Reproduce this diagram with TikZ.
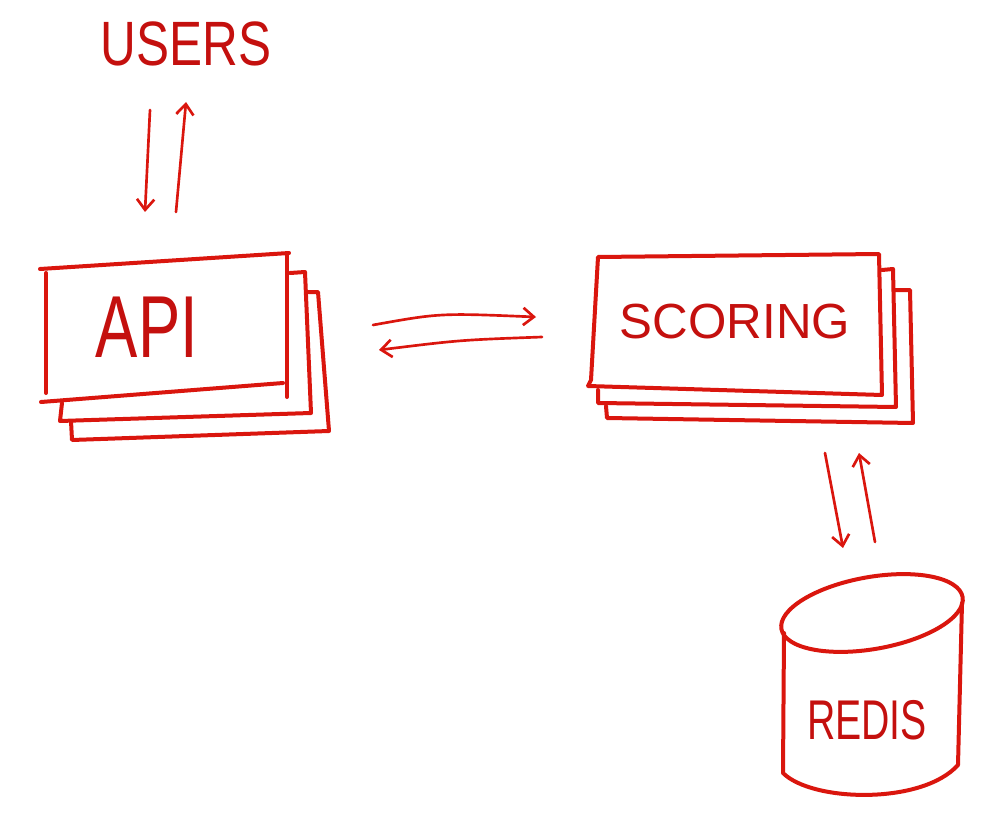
\documentclass[tikz,border=0pt]{standalone}
\usepackage{fontspec}
\setmainfont{Liberation Sans}
\usepackage{graphicx}
\usetikzlibrary{arrows.meta}
\definecolor{ink}{RGB}{218,22,14}
\definecolor{inkdark}{RGB}{196,16,14}
\tikzset{
  boxline/.style={draw=ink, line width=3pt, line join=round, line cap=round},
  conn/.style={draw=ink, line width=2pt, line cap=round,
    -{Straight Barb[length=8pt,width=13pt,line width=2pt]}},
  label/.style={text=inkdark, inner sep=0pt, anchor=center},
}
\begin{document}
\begin{tikzpicture}[x=0.75pt,y=-0.75pt]
\useasboundingbox (0,0) rectangle (1000,813);

% ---------- USERS ----------
\node[label, font=\fontsize{47pt}{47pt}\selectfont] (users) at (186,44) {\scalebox{0.79}[1]{USERS}};
\coordinate (u1s) at (150,110);
\coordinate (u1e) at (145,212);
\coordinate (u2s) at (176,212);
\coordinate (u2e) at (186,102);
\draw[conn] (u1s) -- (u1e);
\draw[conn] (u2s) -- (u2e);

% ---------- API stack ----------
\draw[boxline] (308,292) -- (318,292) -- (329,431) -- (72,440) -- (71,421);
\draw[boxline] (290,273) -- (305,272) -- (311,413) -- (60,421) -- (62,403);
\fill[white] (40,269) -- (289,253) -- (287,397) -- (283,383) -- (41,402) -- cycle;
\draw[boxline] (40,269) -- (289,253);
\draw[boxline] (46,273) -- (46,393);
\draw[boxline] (287,255) -- (287,397);
\draw[boxline] (41,402) -- (283,383);
\node[label, font=\fontsize{66pt}{66pt}\selectfont] (api) at (147,327) {\scalebox{0.72}[1]{API}};

% ---------- API <-> SCORING ----------
\coordinate (a1s) at (373,325);
\coordinate (a1e) at (536,317);
\coordinate (a2s) at (542,337);
\coordinate (a2e) at (379,350);
\draw[conn] (a1s) .. controls (440,313) .. (a1e);
\draw[conn] (a2s) .. controls (460,340) .. (a2e);

% ---------- SCORING stack ----------
\draw[boxline] (895,290) -- (910,290) -- (913,423) -- (607,418) -- (606,406);
\draw[boxline] (882,270) -- (893,269) -- (896,407) -- (598,403) -- (598,390);
\draw[boxline, fill=white] (598,257) -- (879,254) -- (882,395) -- (588,386) -- (591,380) -- cycle;
\node[label, font=\fontsize{37pt}{37pt}\selectfont] (scoring) at (735,322) {SCORING};

% ---------- SCORING <-> REDIS ----------
\coordinate (r1s) at (825,453);
\coordinate (r1e) at (843,548);
\coordinate (r2s) at (875,542);
\coordinate (r2e) at (859,453);
\draw[conn] (r1s) -- (r1e);
\draw[conn] (r2s) -- (r2e);

% ---------- REDIS cylinder ----------
\draw[boxline] (872,613) circle [x radius=69pt, y radius=27pt, rotate=10];
\draw[boxline] (784,633) -- (783,773) .. controls (812,802) and (922,805) .. (958,765) -- (962,603);
\node[label, font=\fontsize{42pt}{42pt}\selectfont] (redis) at (867,720) {\scalebox{0.7}[1]{REDIS}};
\end{tikzpicture}
\end{document}
